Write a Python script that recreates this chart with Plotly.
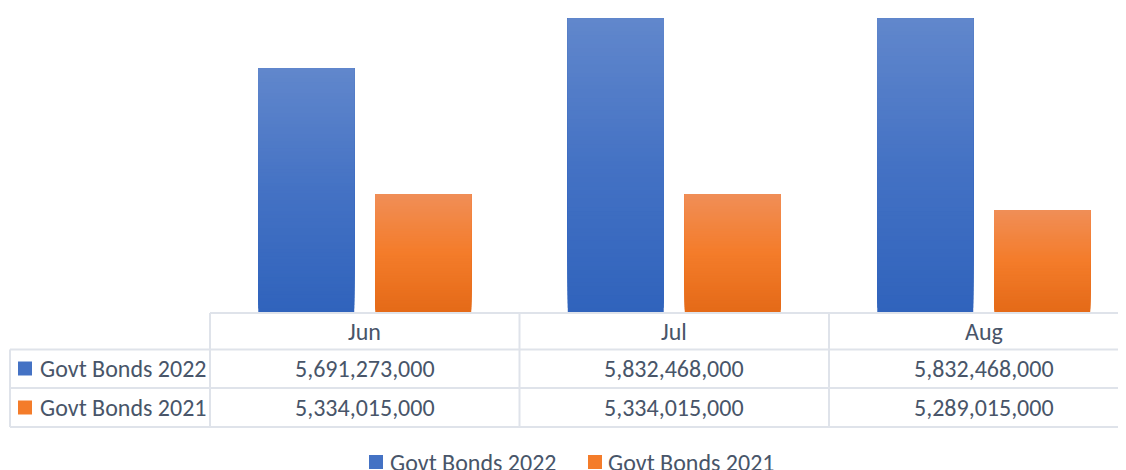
import plotly.graph_objects as go

months = ["Jun", "Jul", "Aug"]
series_names = ["Govt Bonds 2022", "Govt Bonds 2021"]
bonds_2022 = [5691273000, 5832468000, 5832468000]
bonds_2021 = [5334015000, 5334015000, 5289015000]

# window geometry (page body adds an 8px offset)
WIN_W, WIN_H, OFF = 1126, 470, 8
W, H = WIN_W - OFF, WIN_H - OFF
L_WIN, B_WIN = 210, 312          # plot area left edge and bottom in window pixels
PLOT_W = WIN_W - L_WIN
PLOT_H = B_WIN - OFF
PX_PER_UNIT = (312 - 18.5) / (5832468000 - 5.0e9)
AX_MIN = 5.0e9
AX_MAX = AX_MIN + PLOT_H / PX_PER_UNIT
CAT_W = 309.5
FONT = "Carlito, Calibri, Lato, sans-serif"
TXT = "#485569"
GRID = "#dfe3ea"

# gradient stops (bottom, middle, top)
blue_stops = [(0.0, (0x30, 0x63, 0xbc)), (0.5, (0x44, 0x72, 0xc4)), (1.0, (0x61, 0x87, 0xcc))]
orange_stops = [(0.0, (0xe4, 0x6a, 0x18)), (0.5, (0xf4, 0x7c, 0x2a)), (1.0, (0xf0, 0x8e, 0x57))]


def grad(stops, t):
    for (t0, c0), (t1, c1) in zip(stops, stops[1:]):
        if t <= t1:
            f = (t - t0) / (t1 - t0)
            c = [round(a + (b - a) * f) for a, b in zip(c0, c1)]
            return "rgb(%d,%d,%d)" % tuple(c)
    return "rgb(%d,%d,%d)" % stops[-1][1]


def px2x(px):
    return (px - L_WIN) / PLOT_W


def py2y(py):
    return (B_WIN - py) / PLOT_H


fig = go.Figure()
xs = list(range(len(months)))
N = 70
for vals, stops, off in [(bonds_2022, blue_stops, -0.344), (bonds_2021, orange_stops, 0.034)]:
    for k in range(N):
        t = k / N
        base = [AX_MIN + (v - AX_MIN) * t for v in vals]
        fig.add_trace(go.Bar(
            x=xs, y=[v - b for v, b in zip(vals, base)], base=base,
            width=0.31, offset=off,
            marker=dict(color=grad(stops, t + 0.5 / N), line=dict(width=0)),
            showlegend=False, hoverinfo="skip",
        ))

shapes = []
annotations = []


def hline(py, x0, x1):
    shapes.append(dict(type="line", xref="paper", yref="paper",
                       x0=px2x(x0), x1=px2x(x1), y0=py2y(py), y1=py2y(py),
                       line=dict(color=GRID, width=2)))


def vline(px, y0, y1):
    shapes.append(dict(type="line", xref="paper", yref="paper",
                       x0=px2x(px), x1=px2x(px), y0=py2y(y0), y1=py2y(y1),
                       line=dict(color=GRID, width=2)))


def text(s, px, py, anchor="center", size=24):
    annotations.append(dict(text=s, xref="paper", yref="paper", x=px2x(px), y=py2y(py),
                            xanchor=anchor, yanchor="middle", showarrow=False,
                            font=dict(family=FONT, size=size, color=TXT)))


def key(px, py, stops):
    shapes.append(dict(type="rect", xref="paper", yref="paper",
                       x0=px2x(px), x1=px2x(px + 14), y0=py2y(py - 7), y1=py2y(py + 7),
                       line=dict(width=0),
                       fillcolor=grad(stops, 0.5)))


# table grid
hline(313, L_WIN, WIN_W)
hline(349.5, 10, WIN_W)
hline(388, 10, WIN_W)
hline(427, 10, WIN_W)
vline(10, 349.5, 427)
for i in range(len(months)):
    vline(L_WIN + i * CAT_W, 313, 427)

row_y = [368.5, 407.5]
for i, m in enumerate(months):
    cx = L_WIN + (i + 0.5) * CAT_W
    text(m, cx, 331)
    text(f"{bonds_2022[i]:,}", cx, row_y[0])
    text(f"{bonds_2021[i]:,}", cx, row_y[1])

for name, ry, stops in zip(series_names, row_y, [blue_stops, orange_stops]):
    key(18, ry, stops)
    text(name, 38, ry, anchor="left")

# bottom legend
key(369, 462, blue_stops)
text(series_names[0], 388, 462, anchor="left")
key(588, 462, orange_stops)
text(series_names[1], 606, 462, anchor="left")

fig.update_layout(
    width=W, height=H,
    margin=dict(l=L_WIN - OFF, r=0, t=0, b=H - PLOT_H),
    barmode="overlay",
    plot_bgcolor="white", paper_bgcolor="white",
    xaxis=dict(range=[-0.5, -0.5 + PLOT_W / CAT_W], visible=False, fixedrange=True),
    yaxis=dict(range=[AX_MIN, AX_MAX], visible=False, fixedrange=True),
    shapes=shapes, annotations=annotations,
    showlegend=False,
)

fig.write_html("out.html")
